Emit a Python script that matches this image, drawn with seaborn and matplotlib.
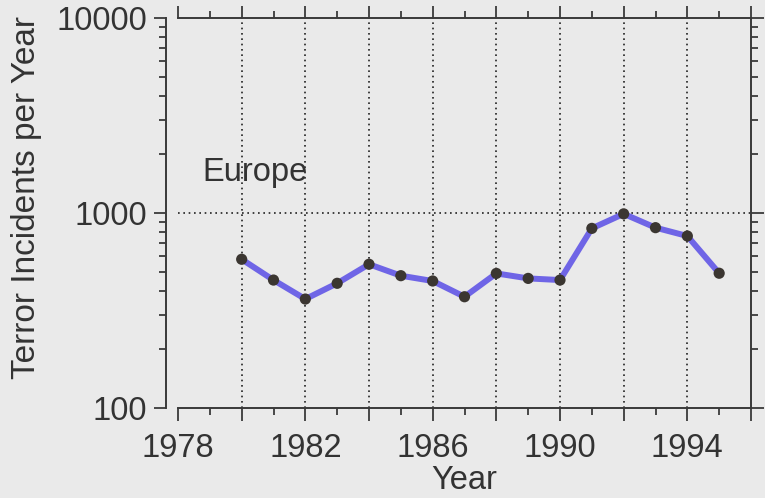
import matplotlib
matplotlib.use("Agg")
import matplotlib.pyplot as plt
import matplotlib.ticker as mticker
import seaborn as sns
import pandas as pd

years = [1980, 1981, 1982, 1983, 1984, 1985, 1986, 1987,
         1988, 1989, 1990, 1991, 1992, 1993, 1994, 1995]
incidents = [579, 453, 362, 436, 546, 477, 448, 372,
             490, 462, 453, 834, 990, 841, 762, 491]
region = "Europe"
x_label = "Year"
y_label = "Terror Incidents per Year"

df = pd.DataFrame({"year": years, "incidents": incidents})

sns.set_style("ticks")
plt.rcParams['font.family'] = ['Liberation Sans', 'DejaVu Sans']
ink = '#333333'
paper = '#eaeaea'
fs = 23.5

fig = plt.figure(figsize=(7.65, 4.98), dpi=100, facecolor=paper)
ax = fig.add_axes([0.2327, 0.1807, 0.749, 0.7832])
ax.set_facecolor(paper)

sns.lineplot(data=df, x="year", y="incidents", ax=ax, color='#5a4ee6',
             lw=4.3, alpha=0.85, solid_capstyle='round')
sns.scatterplot(data=df, x="year", y="incidents", ax=ax, color='#3b3631',
                s=65, edgecolor='none', zorder=5)

ax.set_yscale('log')
ax.set_xlim(1978, 1996)
ax.set_ylim(100, 10000)

ax.xaxis.set_major_locator(mticker.MultipleLocator(2))
ax.xaxis.set_minor_locator(mticker.MultipleLocator(1))
ax.xaxis.set_major_formatter(mticker.FuncFormatter(
    lambda v, p: f"{int(round(v))}" if int(round(v - 1978)) % 4 == 0 and v < 1995 else ""))
ax.yaxis.set_major_locator(mticker.FixedLocator([100, 1000, 10000]))
ax.yaxis.set_minor_locator(mticker.LogLocator(subs=range(2, 10)))
ax.yaxis.set_major_formatter(mticker.FuncFormatter(lambda v, p: f"{int(v)}"))
ax.yaxis.set_minor_formatter(mticker.NullFormatter())

ax.grid(True, which='major', color='#222222', linestyle=(0, (1, 2.2)), lw=1.2)

for s in ax.spines.values():
    s.set_visible(True)
    s.set_color('#3a3a3a')
    s.set_linewidth(1.4)
ax.spines['left'].set_position(('outward', 9))

ax.tick_params(axis='both', which='both', colors='#3a3a3a', labelcolor=ink,
               labelsize=fs, width=1.3, direction='out')
ax.tick_params(axis='x', which='both', top=True, bottom=True)
ax.tick_params(axis='y', which='both', right=True, left=True)
ax.tick_params(which='major', length=9)
ax.tick_params(which='minor', length=5)
ax.tick_params(axis='x', pad=9)
ax.tick_params(axis='y', pad=4)

ax.set_xlabel(x_label, fontsize=fs, color=ink, labelpad=1)
ax.set_ylabel(y_label, fontsize=24, color=ink)
ax.yaxis.set_label_coords(-0.238, 0.541)

ax.text(1978.75, 1620, region, fontsize=fs, color=ink, va='center', ha='left')

# no grid lines on the frame edges
fig.canvas.draw()
x0, x1 = ax.get_xlim()
for tick in ax.xaxis.get_major_ticks():
    if tick.get_loc() <= x0 or tick.get_loc() >= x1:
        tick.gridline.set_visible(False)
y0, y1 = ax.get_ylim()
for tick in ax.yaxis.get_major_ticks():
    if tick.get_loc() <= y0 or tick.get_loc() >= y1:
        tick.gridline.set_visible(False)

fig.savefig("out.png", dpi=100, facecolor=paper)
